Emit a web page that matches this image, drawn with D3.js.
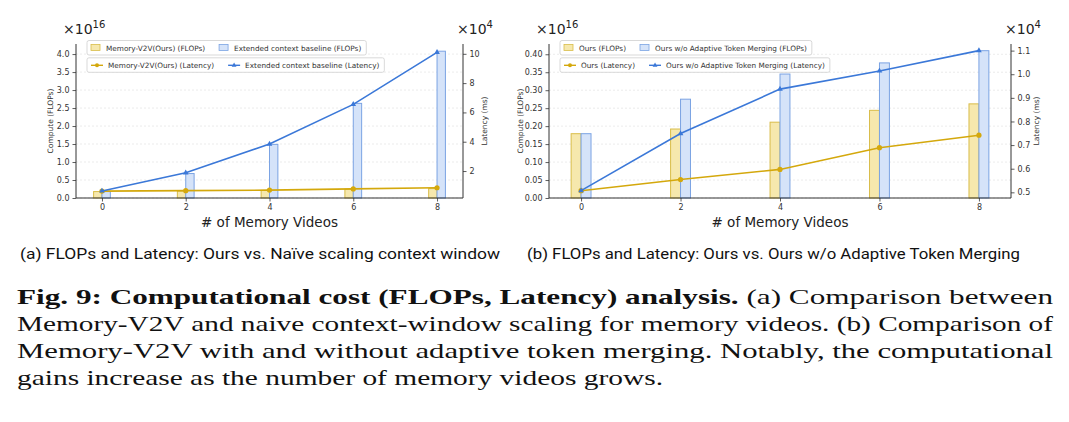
<!DOCTYPE html>
<html>
<head>
<meta charset="utf-8">
<script src="https://cdn.jsdelivr.net/npm/d3@7"></script>
<style>
  body { margin: 0; background: #fff; }
  svg { display: block; }
</style>
</head>
<body>
<div id="chart"></div>
<script>
// values (FLOPs in 1e16, latency in 1e4 ms)
var memVideos = [0, 2, 4, 6, 8];

var oursFlopsA = [0.179, 0.192, 0.211, 0.244, 0.262];
var extFlops = [0.179, 0.68, 1.49, 2.63, 4.08];
var oursLatA = [0.63, 0.66, 0.70, 0.78, 0.86];
var extLat = [0.64, 1.88, 3.84, 6.55, 10.1];

var oursFlopsB = [0.179, 0.192, 0.211, 0.244, 0.262];
var noAtmFlops = [0.179, 0.275, 0.345, 0.376, 0.41];
var oursLatB = [0.507, 0.554, 0.597, 0.689, 0.742];
var noAtmLat = [0.507, 0.749, 0.937, 1.014, 1.10];

var xTicks = [0, 2, 4, 6, 8];
var leftTicksA = [0, 0.5, 1.0, 1.5, 2.0, 2.5, 3.0, 3.5, 4.0];
var rightTicksA = [2, 4, 6, 8, 10];
var leftTicksB = [0, 0.05, 0.10, 0.15, 0.20, 0.25, 0.30, 0.35, 0.40];
var rightTicksB = [0.5, 0.6, 0.7, 0.8, 0.9, 1.0, 1.1];

var legendA = [['Memory-V2V(Ours) (FLOPs)', 'Extended context baseline (FLOPs)'],
               ['Memory-V2V(Ours) (Latency)', 'Extended context baseline (Latency)']];
var legendB = [['Ours (FLOPs)', 'Ours w/o Adaptive Token Merging (FLOPs)'],
               ['Ours (Latency)', 'Ours w/o Adaptive Token Merging (Latency)']];

var W = 1069, H = 422;
var tickFont = 'DejaVu Sans, sans-serif';
var yellowFill = '#f6e8ad', yellowEdge = '#d9bd4a', yellowLine = '#d4a80c';
var blueFill = '#d5e3f9', blueEdge = '#7ba3e3', blueLine = '#3b78d8';
var barW = 0.2;

var svg = d3.select('#chart').append('svg')
    .attr('width', W).attr('height', H);
svg.append('rect').attr('width', W).attr('height', H).attr('fill', '#fff');

function drawPanel(cfg) {
    var g = svg.append('g');
    var x = d3.scaleLinear().domain(cfg.xDomain).range([cfg.left, cfg.right]);
    var yL = d3.scaleLinear().domain(cfg.yLDomain).range([cfg.bottom, cfg.top]);
    var yR = d3.scaleLinear().domain(cfg.yRDomain).range([cfg.bottom, cfg.top]);

    // grid
    g.selectAll('.grid').data(cfg.leftTicks).enter().append('line')
        .attr('x1', cfg.left).attr('x2', cfg.right)
        .attr('y1', function (d) { return yL(d); })
        .attr('y2', function (d) { return yL(d); })
        .attr('stroke', '#e3e3e3').attr('stroke-width', 0.7)
        .attr('stroke-dasharray', '2,2');

    // bars
    g.selectAll('.barY').data(cfg.flops1).enter().append('rect')
        .attr('x', function (d, i) { return x(memVideos[i] - barW); })
        .attr('y', function (d) { return yL(d); })
        .attr('width', x(barW) - x(0))
        .attr('height', function (d) { return yL(0) - yL(d); })
        .attr('fill', yellowFill).attr('stroke', yellowEdge).attr('stroke-width', 1);
    g.selectAll('.barB').data(cfg.flops2).enter().append('rect')
        .attr('x', function (d, i) { return x(memVideos[i]); })
        .attr('y', function (d) { return yL(d); })
        .attr('width', x(barW) - x(0))
        .attr('height', function (d) { return yL(0) - yL(d); })
        .attr('fill', blueFill).attr('stroke', blueEdge).attr('stroke-width', 1);

    // latency lines
    var line = d3.line()
        .x(function (d, i) { return x(memVideos[i]); })
        .y(function (d) { return yR(d); });
    g.append('path').datum(cfg.lat1).attr('d', line)
        .attr('fill', 'none').attr('stroke', yellowLine).attr('stroke-width', 1.6);
    g.selectAll('.dotY').data(cfg.lat1).enter().append('circle')
        .attr('cx', function (d, i) { return x(memVideos[i]); })
        .attr('cy', function (d) { return yR(d); })
        .attr('r', 2.6).attr('fill', yellowLine);
    g.append('path').datum(cfg.lat2).attr('d', line)
        .attr('fill', 'none').attr('stroke', blueLine).attr('stroke-width', 1.6);
    g.selectAll('.triB').data(cfg.lat2).enter().append('path')
        .attr('d', d3.symbol().type(d3.symbolTriangle).size(14))
        .attr('transform', function (d, i) { return 'translate(' + x(memVideos[i]) + ',' + yR(d) + ')'; })
        .attr('fill', blueLine);

    // axes
    var axL = g.append('g').attr('transform', 'translate(' + cfg.left + ',0)')
        .call(d3.axisLeft(yL).tickValues(cfg.leftTicks).tickFormat(d3.format(cfg.leftFmt)).tickSize(3.5).tickPadding(3));
    var axR = g.append('g').attr('transform', 'translate(' + cfg.right + ',0)')
        .call(d3.axisRight(yR).tickValues(cfg.rightTicks).tickFormat(d3.format(cfg.rightFmt)).tickSize(3.5).tickPadding(3));
    var axB = g.append('g').attr('transform', 'translate(0,' + cfg.bottom + ')')
        .call(d3.axisBottom(x).tickValues(xTicks).tickFormat(d3.format('d')).tickSize(3.5).tickPadding(3));
    [axL, axR, axB].forEach(function (a) {
        a.select('.domain').attr('stroke', '#333').attr('stroke-width', 1);
        a.selectAll('.tick line').attr('stroke', '#333').attr('stroke-width', 0.8);
        a.selectAll('.tick text').attr('fill', '#333').attr('font-family', tickFont).attr('font-size', 8);
    });
    axL.select('.domain').attr('d', 'M0,' + cfg.bottom + 'V' + cfg.top);
    axR.select('.domain').attr('d', 'M0,' + cfg.bottom + 'V' + cfg.top);
    axB.select('.domain').attr('d', 'M' + cfg.left + ',0H' + cfg.right);

    // axis titles
    g.append('text')
        .attr('transform', 'translate(' + cfg.yLabelX + ',' + ((cfg.top + cfg.bottom) / 2) + ') rotate(-90)')
        .attr('text-anchor', 'middle').attr('font-family', tickFont).attr('font-size', 7.5)
        .attr('fill', '#333').text('Compute (FLOPs)');
    g.append('text')
        .attr('transform', 'translate(' + cfg.yRLabelX + ',' + ((cfg.top + cfg.bottom) / 2) + ') rotate(-90)')
        .attr('text-anchor', 'middle').attr('font-family', tickFont).attr('font-size', 7.5)
        .attr('fill', '#333').text('Latency (ms)');
    g.append('text')
        .attr('x', (cfg.left + cfg.right) / 2).attr('y', 227)
        .attr('text-anchor', 'middle').attr('font-family', tickFont).attr('font-size', 13.5)
        .attr('fill', '#222').text('# of Memory Videos');

    // offset multipliers
    function mult(xp, exp) {
        var t = g.append('text').attr('x', xp).attr('y', 34)
            .attr('font-family', tickFont).attr('font-size', 14).attr('fill', '#222');
        t.append('tspan').text('\u00d710');
        t.append('tspan').attr('dy', -6).attr('font-size', 10).text(exp);
    }
    mult(cfg.left - 13, '16');
    mult(cfg.right - 6, '4');

    // legends
    function legend(row, y0, isLine) {
        var lg = g.append('g');
        var box = lg.append('rect').attr('y', y0).attr('height', 14.5)
            .attr('rx', 2).attr('fill', '#fff').attr('stroke', '#cfcfcf').attr('stroke-width', 0.8);
        var cx = cfg.left + 15;
        row.forEach(function (label, k) {
            var fill = k === 0 ? yellowFill : blueFill, edge = k === 0 ? yellowEdge : blueEdge;
            var lc = k === 0 ? yellowLine : blueLine;
            if (!isLine) {
                lg.append('rect').attr('x', cx).attr('y', y0 + 4).attr('width', 9).attr('height', 6)
                    .attr('fill', fill).attr('stroke', edge).attr('stroke-width', 0.8);
            } else {
                lg.append('line').attr('x1', cx).attr('x2', cx + 12).attr('y1', y0 + 7.5).attr('y2', y0 + 7.5)
                    .attr('stroke', lc).attr('stroke-width', 1.4);
                if (k === 0) {
                    lg.append('circle').attr('cx', cx + 6).attr('cy', y0 + 7.5).attr('r', 2).attr('fill', lc);
                } else {
                    lg.append('path').attr('d', d3.symbol().type(d3.symbolTriangle).size(10))
                        .attr('transform', 'translate(' + (cx + 6) + ',' + (y0 + 7.5) + ')').attr('fill', lc);
                }
            }
            var tx = cx + (isLine ? 17 : 15);
            var t = lg.append('text').attr('x', tx).attr('y', y0 + 10.3)
                .attr('font-family', tickFont).attr('font-size', 7.3).attr('fill', '#333').text(label);
            cx = tx + t.node().getComputedTextLength() + 14;
        });
        box.attr('x', cfg.left + 11).attr('width', cx - 14 + 5 - (cfg.left + 11));
    }
    legend(cfg.legend[0], 40.5, false);
    legend(cfg.legend[1], 57.8, true);
}

drawPanel({
    left: 76, right: 463, top: 44, bottom: 198, yLabelX: 53, yRLabelX: 487,
    xDomain: [-0.62, 8.62], yLDomain: [0, 4.28], yRDomain: [0.16, 10.67],
    leftTicks: leftTicksA, rightTicks: rightTicksA, leftFmt: '.1f', rightFmt: 'd',
    flops1: oursFlopsA, flops2: extFlops, lat1: oursLatA, lat2: extLat, legend: legendA
});
drawPanel({
    left: 549, right: 1011, top: 44, bottom: 198, yLabelX: 523, yRLabelX: 1039,
    xDomain: [-0.645, 8.645], yLDomain: [0, 0.4286], yRDomain: [0.476, 1.128],
    leftTicks: leftTicksB, rightTicks: rightTicksB, leftFmt: '.2f', rightFmt: '.1f',
    flops1: oursFlopsB, flops2: noAtmFlops, lat1: oursLatB, lat2: noAtmLat, legend: legendB
});

// sub captions
var capFont = '"Liberation Sans Narrow", "Roboto", sans-serif';
svg.append('text').attr('x', 20).attr('y', 259)
    .attr('font-family', capFont).attr('font-size', 14).attr('fill', '#111')
    .attr('textLength', 480).attr('lengthAdjust', 'spacingAndGlyphs')
    .text('(a) FLOPs and Latency: Ours vs. Na\u00efve scaling context window');
svg.append('text').attr('x', 527).attr('y', 259)
    .attr('font-family', capFont).attr('font-size', 14).attr('fill', '#111')
    .attr('textLength', 493).attr('lengthAdjust', 'spacingAndGlyphs')
    .text('(b) FLOPs and Latency: Ours vs. Ours w/o Adaptive Token Merging');

// figure caption
var serif = '"Liberation Serif", "Times New Roman", Times, serif';
var capLines = [
    { bold: 'Fig. 9: Computational cost (FLOPs, Latency) analysis.', rest: ' (a) Comparison between', len: 1036 },
    { bold: '', rest: 'Memory-V2V and naive context-window scaling for memory videos. (b) Comparison of', len: 1036 },
    { bold: '', rest: 'Memory-V2V with and without adaptive token merging. Notably, the computational', len: 1036 },
    { bold: '', rest: 'gains increase as the number of memory videos grows.', len: 646 }
];
capLines.forEach(function (l, i) {
    var t = svg.append('text').attr('x', 17).attr('y', 304 + i * 27)
        .attr('font-family', serif).attr('font-size', 22).attr('fill', '#111')
        .attr('textLength', l.len).attr('lengthAdjust', 'spacingAndGlyphs');
    if (l.bold) t.append('tspan').attr('font-weight', 'bold').text(l.bold);
    t.append('tspan').text(l.rest);
});
</script>
</body>
</html>
